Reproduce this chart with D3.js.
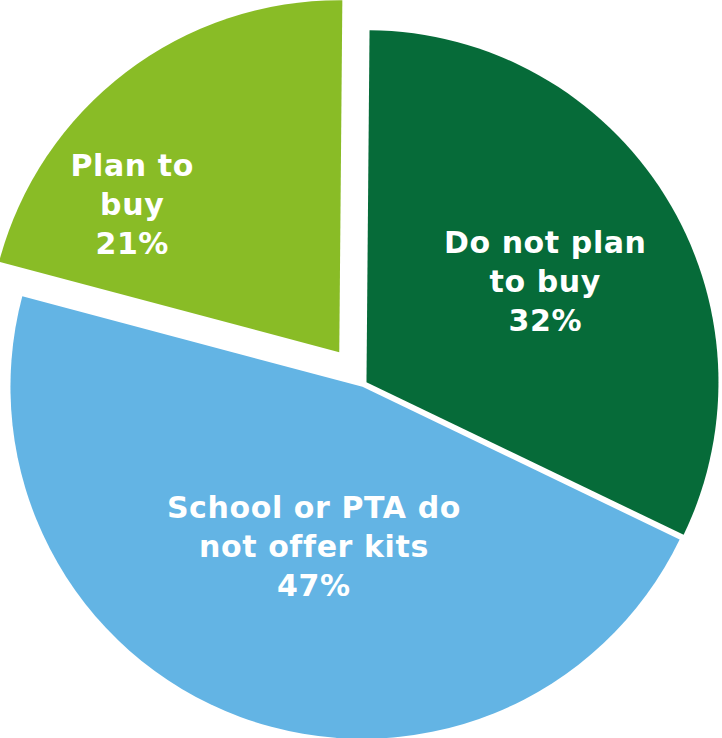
<!DOCTYPE html>
<html>
<head>
<meta charset="utf-8">
<script src="https://cdn.jsdelivr.net/npm/d3@7"></script>
<style>
  body { margin: 0; background: #fff; }
  svg { display: block; }
</style>
</head>
<body>
<script>
// slice data, clockwise from 12 o'clock
const categories = ["Do not plan to buy", "School or PTA do not offer kits", "Plan to buy"];
const labelLines = [["Do not plan", "to buy"], ["School or PTA do", "not offer kits"], ["Plan to", "buy"]];
const values = [32, 47, 21];
const colors = ["#066b39", "#63b4e4", "#89bc26"];

// layout
const width = 722, height = 738;
const cx = 363.5, cy = 384, radius = 352;
const explode = [3.5, 3, 40];           // px pulled out along mid angle
const labelAngle = [60.7, 196.9, 305.4]; // deg from 12 o'clock
const labelRadius = [205, 167, 254];
const lineHeight = 39;

const svg = d3.select("body").append("svg")
  .attr("width", width)
  .attr("height", height);

const rot = 0.5 * Math.PI / 180;
const pie = d3.pie().sort(null).value(d => d)
  .startAngle(rot).endAngle(2 * Math.PI + rot);
const arcs = pie(values);
const arc = d3.arc().innerRadius(0).outerRadius(radius);

const g = svg.append("g").attr("transform", `translate(${cx},${cy})`);

const slices = g.selectAll("g.slice")
  .data(arcs)
  .enter().append("g")
  .attr("class", "slice")
  .attr("transform", (d, i) => {
    const mid = (d.startAngle + d.endAngle) / 2;
    return `translate(${Math.sin(mid) * explode[i]},${-Math.cos(mid) * explode[i]})`;
  });

slices.append("path")
  .attr("d", arc)
  .attr("fill", (d, i) => colors[i]);

// labels
slices.each(function(d, i) {
  const a = labelAngle[i] * Math.PI / 180;
  const x = Math.sin(a) * labelRadius[i];
  const y = -Math.cos(a) * labelRadius[i];
  const lines = labelLines[i].concat([values[i] + "%"]);
  const text = d3.select(this).append("text")
    .attr("text-anchor", "middle")
    .attr("font-family", "Verdana, 'DejaVu Sans', sans-serif")
    .attr("font-weight", "bold")
    .attr("font-size", 30)
    .attr("letter-spacing", 0.6)
    .attr("fill", "#fff");
  lines.forEach((l, k) => {
    text.append("tspan")
      .attr("x", x)
      .attr("y", y + 10 + (k - 1) * lineHeight)
      .text(l);
  });
});
</script>
</body>
</html>
